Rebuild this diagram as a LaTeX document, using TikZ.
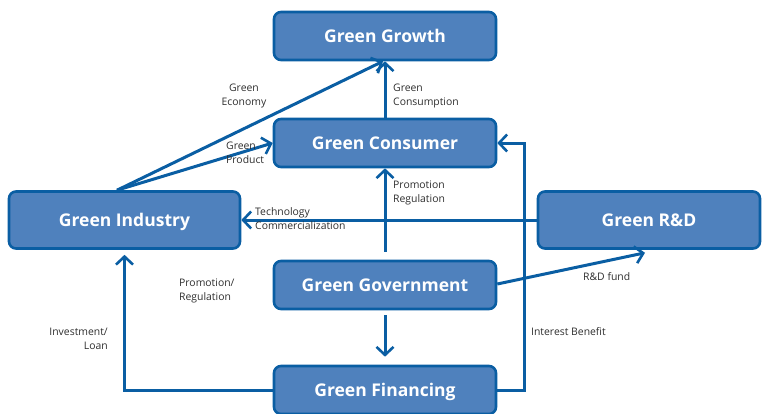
\documentclass[tikz,border=0pt]{standalone}
\usepackage{fontspec}
\setmainfont{Open Sans}
\usetikzlibrary{arrows.meta}
\definecolor{lineblue}{HTML}{0A5EA3}
\definecolor{boxfill}{HTML}{4F81BD}
\definecolor{labgray}{HTML}{2E2E2E}
\tikzset{
  box/.style={draw=lineblue, fill=boxfill, line width=2.6pt, rounded corners=7pt,
    text=white, font=\fontsize{17.5}{20}\selectfont\bfseries, inner sep=0pt,
    text height=12.5pt, text depth=0pt},
  conn/.style={draw=lineblue, line width=3pt, -{Straight Barb[length=8pt,width=17pt,line width=2.6pt]}},
  lab/.style={text=labgray, font=\fontsize{10.4}{14}\selectfont, inner sep=0pt}
}
\begin{document}
\begin{tikzpicture}[x=1pt,y=-1pt]
\useasboundingbox (0,0) rectangle (763,413);
% boxes
\node[box, minimum width=222pt, minimum height=48pt] (gro) at (385,36) {Green Growth};
\node[box, minimum width=222pt, minimum height=48pt] (con) at (385,143) {Green Consumer};
\node[box, minimum width=231pt, minimum height=57pt] (ind) at (124.5,220) {Green Industry};
\node[box, minimum width=222pt, minimum height=57pt] (rd) at (649,220) {Green R\&D};
\node[box, minimum width=222pt, minimum height=48pt] (gov) at (385,285) {Green Government};
\node[box, minimum width=222pt, minimum height=48pt] (fin) at (385,390) {Green Financing};
% connectors
\draw[conn] ([xshift=-7.5pt]ind.north) -- ([xshift=-2pt]gro.south);
\draw[conn] ([xshift=-7.5pt]ind.north) -- (con.west);
\draw[conn] (con.north) -- (gro.south);
\draw[conn] ([yshift=8pt]gov.north) -- (con.south);
\draw[conn] (rd.west) -- (ind.east);
\draw[conn] ([yshift=1pt]gov.east) -- ([xshift=-4pt,yshift=-3pt]rd.south);
\draw[conn, shorten <=5pt, shorten >=8pt] (gov.south) -- (fin.north);
\draw[conn] (fin.east) -- ++(27,0) |- (con.east);
\draw[conn, shorten >=5pt] (fin.west) -| (ind.south);
% labels
\node[lab, align=center] (lecon) at (244,96) {Green\\Economy};
\node[lab, align=left, anchor=west] (lprod) at (226,153) {Green\\Product};
\node[lab, align=left, anchor=west] (lcons) at (393,96) {Green\\Consumption};
\node[lab, align=left, anchor=west] (lpr1) at (393,192.5) {Promotion\\Regulation};
\node[lab, align=left, anchor=west] (ltech) at (255,219) {Technology\\Commercialization};
\node[lab, anchor=west] (lrdf) at (583,277) {R\&D fund};
\node[lab, align=left, anchor=west] (lpr2) at (179,291) {Promotion/\\Regulation};
\node[lab, align=right, anchor=east] (linv) at (108,339) {Investment/\\Loan};
\node[lab, anchor=west] (lint) at (531,332) {Interest Benefit};
\end{tikzpicture}
\end{document}
